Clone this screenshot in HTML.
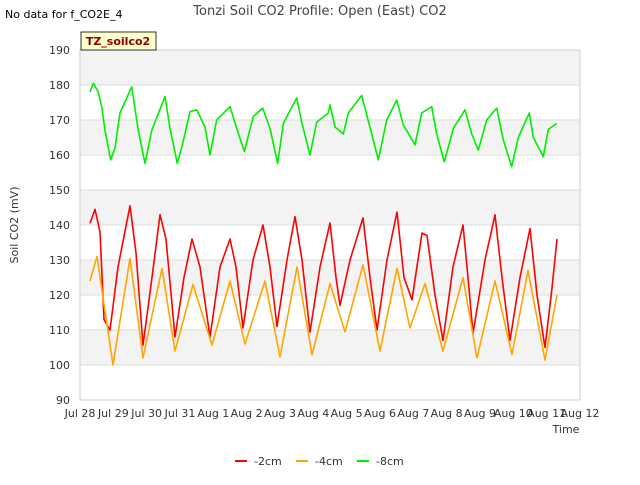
<!DOCTYPE html>
<html><head><meta charset="utf-8"><style>
body{margin:0;background:#fff;font-family:"Liberation Sans","DejaVu Sans",sans-serif}
</style></head><body>
<svg id="c" width="640" height="480" xmlns="http://www.w3.org/2000/svg" style="font-family:'DejaVu Sans','Liberation Sans',sans-serif">
<text x="5" y="18" font-size="11" fill="#000">No data for f_CO2E_4</text>
<text x="320" y="15" font-size="13" fill="#444" text-anchor="middle">Tonzi Soil CO2 Profile: Open (East) CO2</text>
<g id="plot"></g>
<g><rect x="81" y="32" width="75" height="18" fill="#ffffcc" stroke="#000" stroke-width="0.8"/><text x="118" y="45" font-size="11" font-weight="bold" fill="#8b0000" text-anchor="middle">TZ_soilco2</text></g>
<text transform="translate(18,225) rotate(-90)" font-size="11" fill="#333" text-anchor="middle">Soil CO2 (mV)</text>
<text x="566" y="433" font-size="11" fill="#333" text-anchor="middle">Time</text>
<g id="legend"></g>
</svg>
<script>
const yTicks=[90,100,110,120,130,140,150,160,170,180,190];
const xTickLabels=["Jul 28","Jul 29","Jul 30","Jul 31","Aug 1","Aug 2","Aug 3","Aug 4","Aug 5","Aug 6","Aug 7","Aug 8","Aug 9","Aug 10","Aug 11","Aug 12"];
const seriesNames=["-2cm","-4cm","-8cm"];
const seriesColors=["#ff0000","#ffa500","#00ee00"];
const redDays=[0.3,0.45,0.6,0.72,0.9,1.14,1.5,1.68,1.89,2.16,2.4,2.58,2.85,3.12,3.36,3.6,3.9,4.2,4.5,4.68,4.89,5.19,5.49,5.7,5.91,6.21,6.45,6.66,6.9,7.2,7.5,7.68,7.8,8.1,8.49,8.7,8.91,9.21,9.51,9.72,9.96,10.26,10.41,10.65,10.89,11.19,11.49,11.64,11.79,12.15,12.45,12.66,12.9,13.2,13.5,13.71,13.95,14.16,14.31];
const redVals=[140.5,144.5,138,113,110,128,145.5,132,105.7,125,142.9,136,108,125,136,128,108,128,136,128,110.6,130,140,128,111,130,142.4,130,109.4,128,140.6,125,117,130,142,125,110,130,143.7,125,118.6,137.7,137,120,107,128,140,125,109,130,142.9,125,107,125,139,120,105,122,136];
const orangeDays=[0.3,0.51,0.99,1.5,1.89,2.46,2.85,3.39,3.96,4.5,4.95,5.55,6.0,6.51,6.96,7.5,7.95,8.49,9.0,9.51,9.9,10.35,10.89,11.49,11.91,12.45,12.96,13.44,13.95,14.31];
const orangeVals=[124,131,100,130.5,102,127.6,104,123,105.7,124,106,124,102.3,128,102.9,123.3,109.5,128.6,104,127.6,110.6,123.3,104,125,102,124,103,127,101.4,120];
const greenDays=[0.3,0.4,0.55,0.65,0.75,0.92,1.05,1.2,1.55,1.75,1.95,2.15,2.55,2.7,2.92,3.1,3.3,3.5,3.75,3.9,4.1,4.5,4.7,4.93,5.2,5.48,5.7,5.93,6.1,6.5,6.65,6.9,7.1,7.45,7.5,7.65,7.9,8.05,8.45,8.75,8.95,9.2,9.5,9.7,10.05,10.25,10.55,10.7,10.93,11.2,11.55,11.75,11.95,12.2,12.5,12.7,12.95,13.15,13.48,13.6,13.9,14.05,14.3];
const greenVals=[178,180.5,178,173.8,167,158.6,162,172,179.5,167,157.6,167,176.7,167.6,157.6,164,172.4,172.9,168,160,170,173.8,167.6,161,171,173.4,167.6,157.6,169,176.3,169.4,160,169.4,172,174.3,168,166,172,177,166,158.6,170,175.7,168.6,162.9,172,173.8,166,158,167.6,172.9,166,161.4,170,173.4,164.3,156.7,165,172,165,159.5,167.3,169];
const X0=80,X1=580,Y0=400,Y1=50;
const xs=d=>X0+d*(X1-X0)/15;
const ys=v=>Y0-(v-90)*(Y0-Y1)/100;
const NS="http://www.w3.org/2000/svg";
function mk(t,a,p){const e=document.createElementNS(NS,t);for(const k in a)e.setAttribute(k,a[k]);p.appendChild(e);return e;}
const plot=document.getElementById('plot');
for(let i=0;i<yTicks.length-1;i++){
  if(i%2===1){const r=mk('rect',{x:X0,y:ys(yTicks[i+1]),width:X1-X0,height:ys(yTicks[i])-ys(yTicks[i+1]),fill:'#f3f3f3'},plot);
  
  }
}
yTicks.forEach(v=>{
  const l=mk('line',{x1:X0,x2:X1,y1:ys(v),y2:ys(v),stroke:'#dcdcdc','stroke-width':1},plot);
  
  
  const t=mk('text',{x:X0-10,y:ys(v)+4,'font-size':11,fill:'#333','text-anchor':'end'},plot);
  t.textContent=v;
  
  
});
mk('rect',{x:X0,y:Y1,width:X1-X0,height:Y0-Y1,fill:'none',stroke:'#ccc'},plot);
xTickLabels.forEach((s,i)=>{
  const t=mk('text',{x:xs(i),y:417,'font-size':11,fill:'#333','text-anchor':'middle'},plot);
  t.textContent=s;
  
  
});
[[redDays,redVals],[orangeDays,orangeVals],[greenDays,greenVals]].forEach((s,k)=>{
  const d=s[0].map((x,i)=>(i?'L':'M')+xs(x).toFixed(1)+' '+ys(s[1][i]).toFixed(1)).join(' ');
  const p=mk('path',{d:d,fill:'none',stroke:seriesColors[k],'stroke-width':1.6,'stroke-linejoin':'round'},plot);
  
  
});
const lg=document.getElementById('legend');
const lx=[235,296,357];
seriesNames.forEach((n,k)=>{
  const l=mk('line',{x1:lx[k],x2:lx[k]+12,y1:461,y2:461,stroke:seriesColors[k],'stroke-width':2},lg);
  
  
  const t=mk('text',{x:lx[k]+19,y:465,'font-size':11,fill:'#333'},lg);
  t.textContent=n;
  
  
});
</script>
</body></html>
